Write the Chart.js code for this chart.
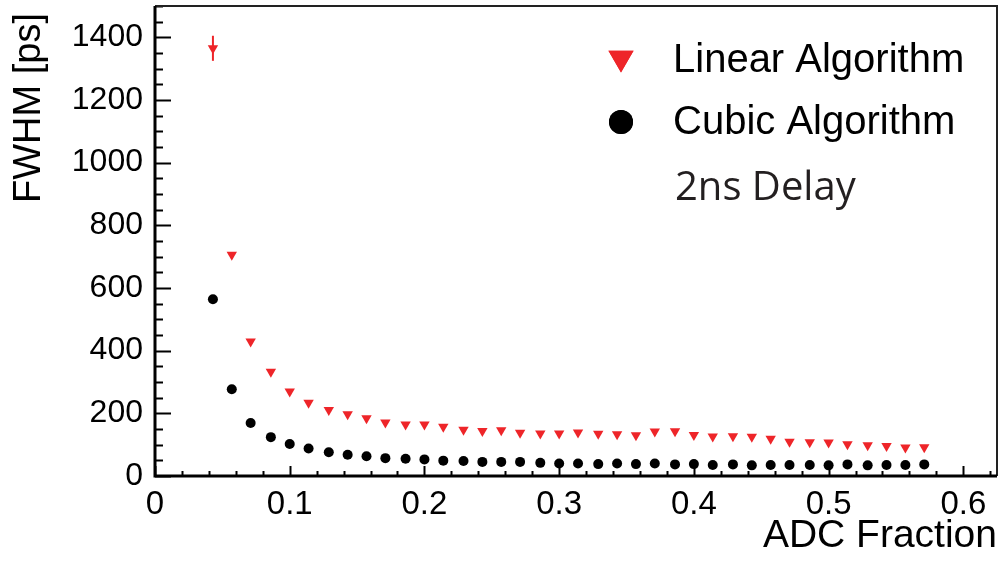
<!DOCTYPE html>
<html>
<head>
<meta charset="utf-8">
<script src="https://cdn.jsdelivr.net/npm/chart.js@4"></script>
<style>
  body { margin: 0; background: #fff; }
  canvas { display: block; }
</style>
</head>
<body>
<canvas id="myChart" width="1003" height="561"></canvas>
<script>
const adcFraction = [
  0.043, 0.057, 0.071, 0.086, 0.100, 0.114, 0.129, 0.143, 0.157, 0.171,
  0.186, 0.200, 0.214, 0.229, 0.243, 0.257, 0.271, 0.286, 0.300, 0.314,
  0.329, 0.343, 0.357, 0.371, 0.386, 0.400, 0.414, 0.429, 0.443, 0.457,
  0.471, 0.486, 0.500, 0.514, 0.529, 0.543, 0.557, 0.571,
];

// FWHM [ps], linear algorithm (red triangles)
const linearFwhm = [
  1365, 706, 429, 333, 270, 234, 211, 197, 184, 171,
  164, 164, 157, 148, 144, 146, 138, 136, 136, 139,
  135, 133, 130, 142, 143, 131, 126, 127, 125, 119,
  109, 108, 107, 101, 98, 96, 91, 92,
];
const linearErr = [
  40, 0, 0, 0, 0, 0, 0, 0, 0, 0,
  0, 0, 0, 0, 0, 0, 0, 0, 0, 0,
  0, 0, 0, 0, 0, 0, 0, 0, 0, 0,
  0, 0, 0, 0, 0, 0, 0, 0,
];

// FWHM [ps], cubic algorithm (black circles)
const cubicFwhm = [
  564, 277, 169, 124, 102, 88, 76, 68, 63, 57,
  55, 53, 49, 48, 45, 45, 45, 42, 40, 40,
  38, 40, 38, 40, 37, 38, 35, 37, 34, 35,
  35, 35, 34, 37, 34, 35, 35, 37,
];

const seriesNames = ["Linear Algorithm", "Cubic Algorithm"];
const noteText = "2ns Delay";
const xTitle = "ADC Fraction";
const yTitle = "FWHM [ps]";

const RED = "#ee2529";
const SANS = "'Liberation Sans', Arial, sans-serif";

Chart.defaults.font.family = SANS;
Chart.defaults.color = "#000";

const toPoints = (ys) => adcFraction.map((x, i) => ({ x: x, y: ys[i] }));

// frame, inward ticks, error bars, y title and legend (ROOT style)
const rootStyle = {
  id: "rootStyle",
  beforeDatasetsDraw(chart) {
    const ctx = chart.ctx;
    const xs = chart.scales.x;
    const ys = chart.scales.y;
    // error bars on linear series
    ctx.save();
    ctx.strokeStyle = RED;
    ctx.lineWidth = 2;
    linearFwhm.forEach((v, i) => {
      const e = linearErr[i];
      if (!e) return;
      const px = xs.getPixelForValue(adcFraction[i]);
      ctx.beginPath();
      ctx.moveTo(px, ys.getPixelForValue(v + e));
      ctx.lineTo(px, ys.getPixelForValue(v - e));
      ctx.stroke();
    });
    ctx.restore();
  },
  afterDraw(chart) {
    const ctx = chart.ctx;
    const { left, right, top, bottom } = chart.chartArea;
    const xs = chart.scales.x;
    const ys = chart.scales.y;
    ctx.save();
    ctx.strokeStyle = "#000";

    // x ticks
    ctx.lineWidth = 2;
    for (let i = 0; i <= 31; i++) {
      const v = i * 0.02;
      const px = Math.round(xs.getPixelForValue(v)) + 0.5;
      const len = i % 5 === 0 ? 10 : 5;
      ctx.beginPath();
      ctx.moveTo(px, bottom);
      ctx.lineTo(px, bottom - len);
      ctx.stroke();
    }
    // y ticks
    for (let i = 0; i <= 30; i++) {
      const v = i * 50;
      const py = Math.round(ys.getPixelForValue(v)) + 0.5;
      const len = i % 4 === 0 ? 16 : 8;
      ctx.beginPath();
      ctx.moveTo(left, py);
      ctx.lineTo(left + len, py);
      ctx.stroke();
    }

    // frame
    ctx.lineWidth = 2;
    ctx.strokeStyle = "#222";
    ctx.beginPath();
    ctx.moveTo(left, top);
    ctx.lineTo(right, top);
    ctx.lineTo(right, bottom);
    ctx.stroke();
    ctx.lineWidth = 3;
    ctx.strokeStyle = "#000";
    ctx.beginPath();
    ctx.moveTo(left, top);
    ctx.lineTo(left, bottom);
    ctx.lineTo(right, bottom);
    ctx.stroke();

    // y title
    ctx.save();
    ctx.translate(40, 13);
    ctx.rotate(-Math.PI / 2);
    ctx.font = "38px " + SANS;
    ctx.fillStyle = "#000";
    ctx.textAlign = "right";
    ctx.textBaseline = "alphabetic";
    ctx.fillText(yTitle, 0, 0);
    ctx.restore();

    // legend
    const ds = chart.data.datasets;
    ctx.fillStyle = ds[0].backgroundColor;
    Chart.helpers.drawPoint(ctx, { pointStyle: "triangle", rotation: 180, radius: 14.5, borderWidth: 0 }, 621, 58);
    ctx.fill();
    ctx.fillStyle = ds[1].backgroundColor;
    Chart.helpers.drawPoint(ctx, { pointStyle: "circle", rotation: 0, radius: 12, borderWidth: 0 }, 621, 122);
    ctx.fill();

    ctx.fillStyle = "#000";
    ctx.font = "40px " + SANS;
    ctx.textAlign = "left";
    ctx.textBaseline = "alphabetic";
    ctx.fillText(ds[0].label, 673, 72);
    ctx.fillText(ds[1].label, 673, 134);
    ctx.fillStyle = "#231f20";
    ctx.font = "40px 'Open Sans', sans-serif";
    ctx.fillText(noteText, 675, 200);
    ctx.restore();
  },
};

const data = {
  datasets: [
    {
      label: seriesNames[0],
      data: toPoints(linearFwhm),
      pointStyle: "triangle",
      rotation: 180,
      pointRadius: 6,
      backgroundColor: RED,
      borderWidth: 0,
    },
    {
      label: seriesNames[1],
      data: toPoints(cubicFwhm),
      pointStyle: "circle",
      pointRadius: 5,
      backgroundColor: "#000",
      borderWidth: 0,
    },
  ],
};

const config = {
  type: "scatter",
  data: data,
  options: {
    responsive: false,
    animation: false,
    layout: { padding: { top: 4, right: 6, left: 0, bottom: 0 } },
    plugins: {
      legend: { display: false },
      tooltip: { enabled: false },
    },
    scales: {
      x: {
        type: "linear",
        min: 0,
        max: 0.625,
        grid: { display: false, drawTicks: false },
        border: { display: false },
        ticks: {
          stepSize: 0.1,
          includeBounds: false,
          padding: 9,
          font: { size: 33 },
          color: "#000",
          maxRotation: 0,
          callback: (value) => Number(value.toFixed(1)).toString(),
        },
        title: {
          display: true,
          text: xTitle,
          align: "end",
          font: { size: 39 },
          color: "#000",
          padding: { top: 0, bottom: 1 },
        },
        afterFit: (scale) => {
          scale.height = 85;
          scale.paddingLeft = 0;
          scale.paddingRight = 0;
        },
      },
      y: {
        type: "linear",
        min: 0,
        max: 1500,
        grid: { display: false, drawTicks: false },
        border: { display: false },
        ticks: {
          stepSize: 200,
          includeBounds: false,
          padding: 12,
          font: { size: 32 },
          color: "#000",
          callback: (value) => (value % 200 === 0 ? String(value) : null),
        },
        afterFit: (scale) => {
          scale.width = 155;
          scale.paddingTop = 0;
          scale.paddingBottom = 0;
        },
      },
    },
  },
  plugins: [rootStyle],
};

let myChart = new Chart(document.getElementById("myChart"), config);
</script>
</body>
</html>
